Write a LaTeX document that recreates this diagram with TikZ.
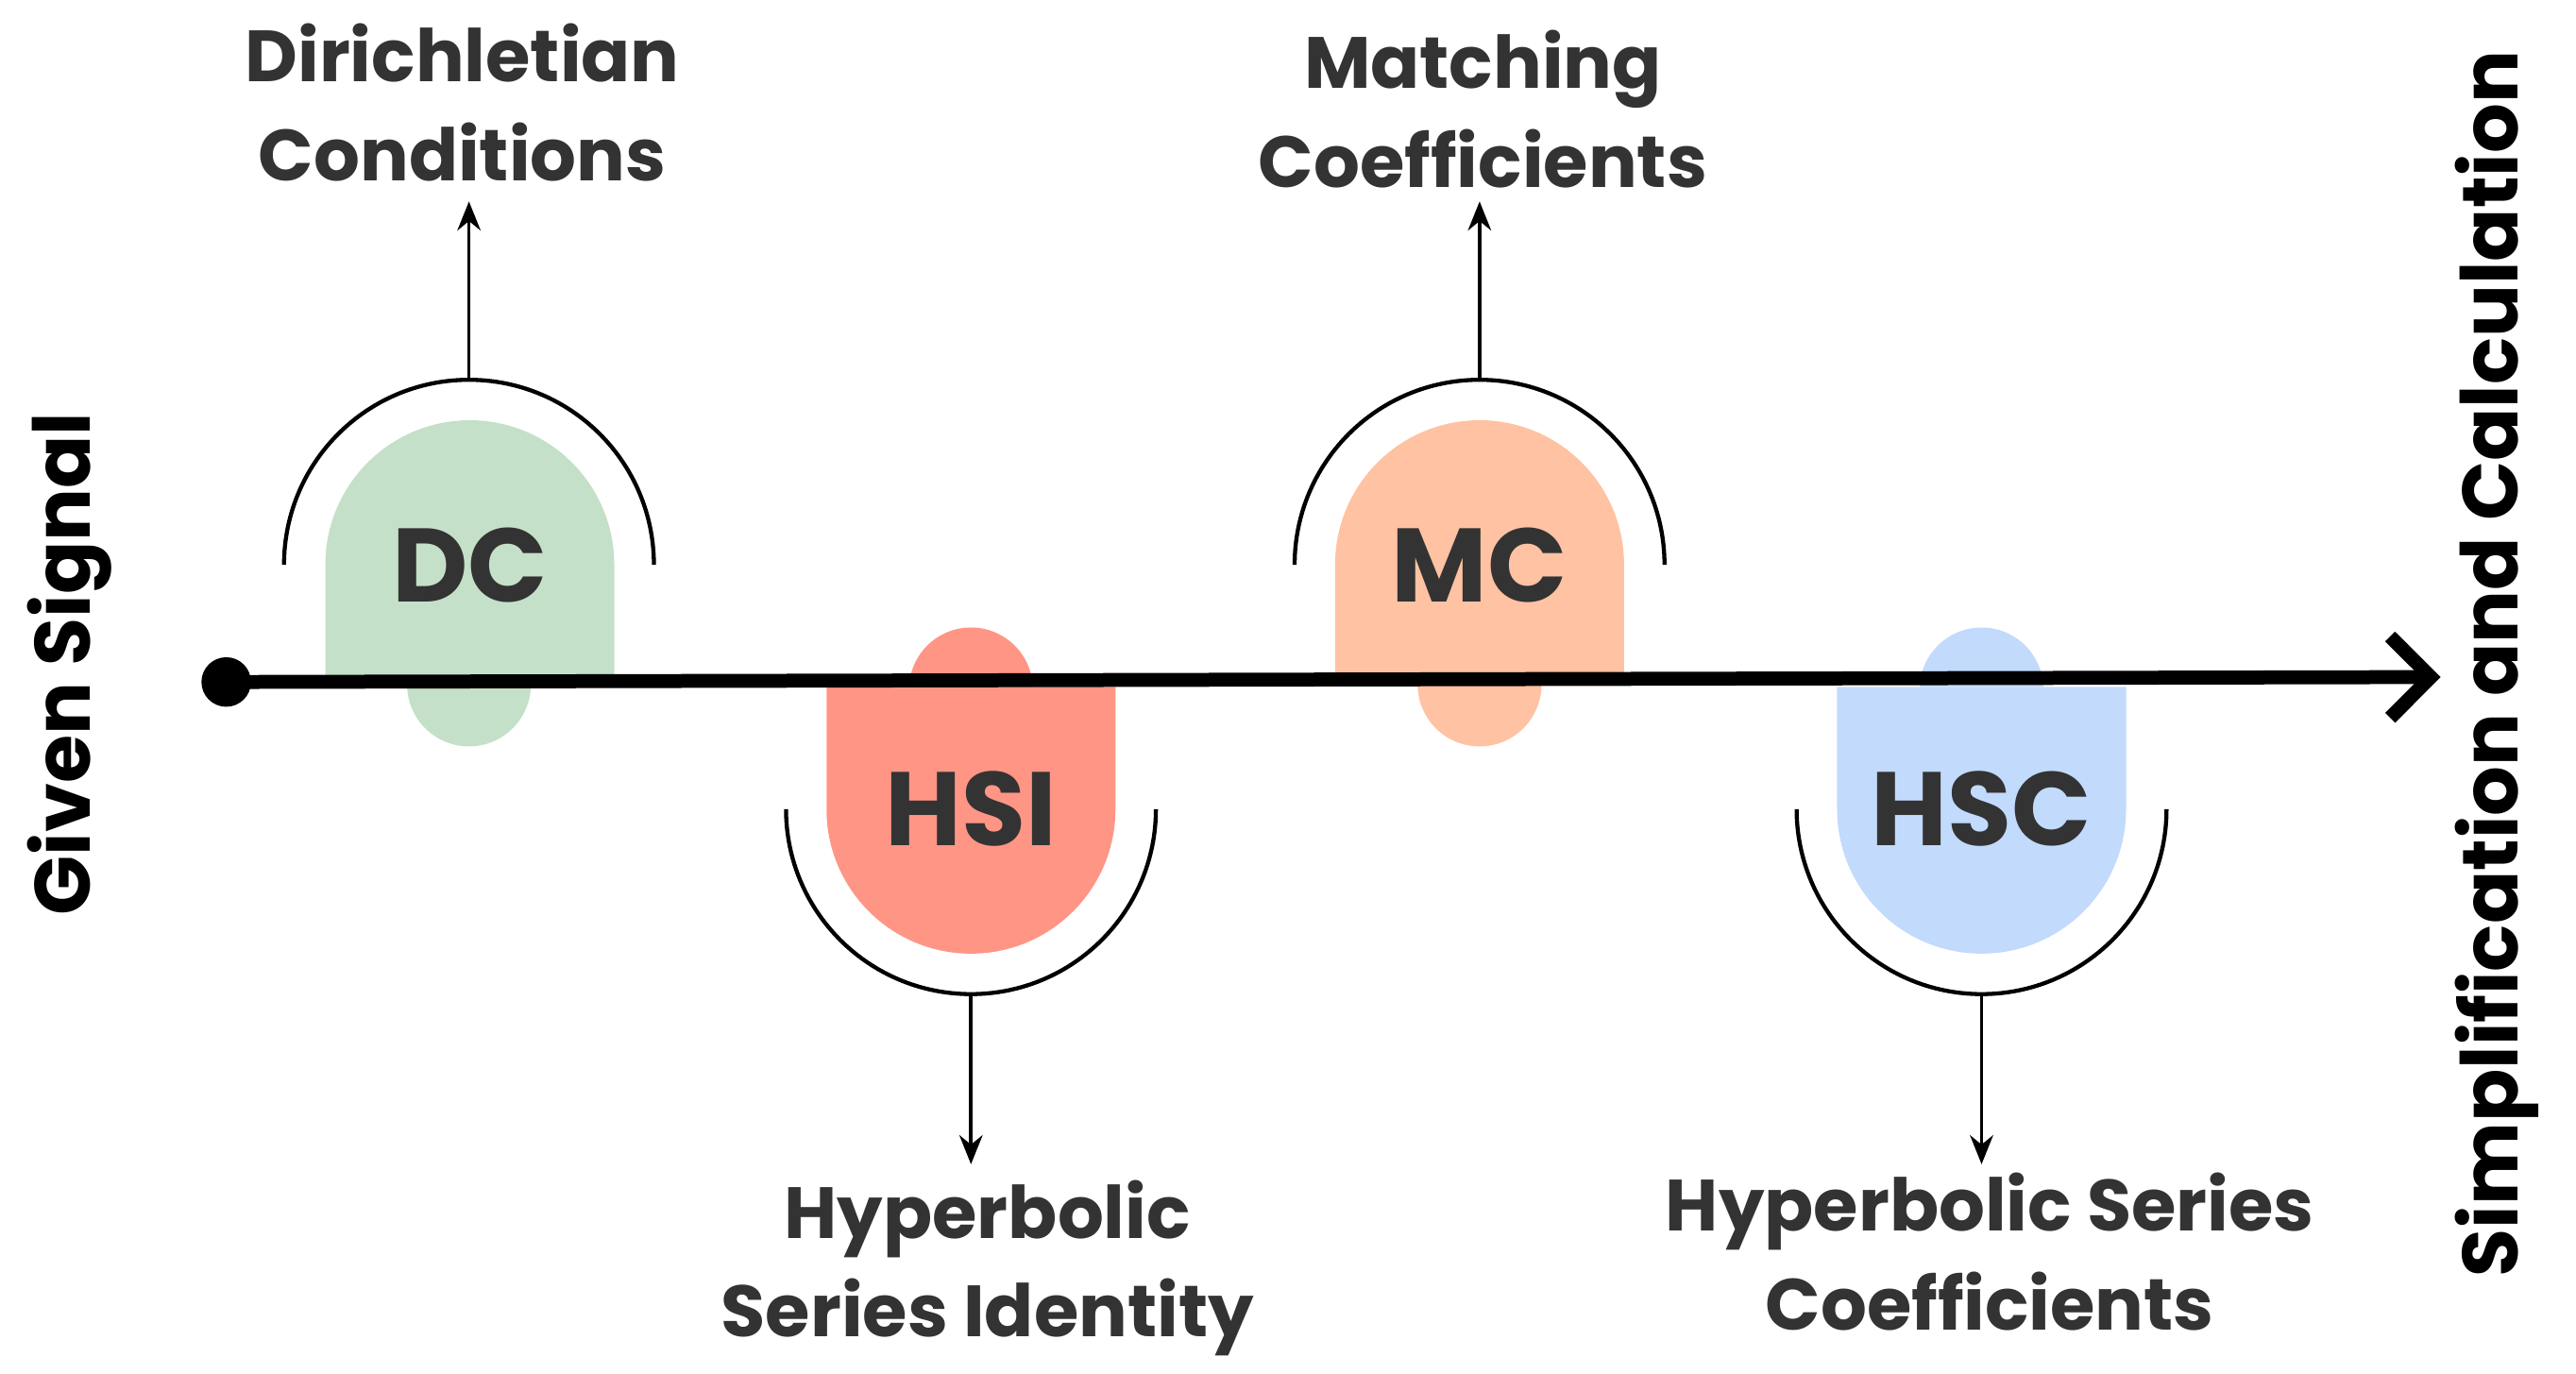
\documentclass[tikz,border=0pt]{standalone}
\usepackage{fontspec}
\setmainfont{Poppins}
\usetikzlibrary{arrows.meta}
\definecolor{dcgreen}{HTML}{C5E0C8}
\definecolor{hsired}{HTML}{FF9585}
\definecolor{mcpeach}{HTML}{FFC2A2}
\definecolor{hscblue}{HTML}{C2DAFC}
\definecolor{ink}{HTML}{333333}
\tikzset{
  lbl/.style={align=center, text=ink, font=\bfseries\fontsize{12.5}{17}\selectfont},
  tag/.style={text=ink, font=\bfseries\fontsize{18}{20}\selectfont},
  side/.style={rotate=90, font=\bfseries\fontsize{13.5}{15}\selectfont},
  ring/.style={line width=0.7pt},
  pin/.style={line width=0.6pt, -{Stealth[length=5pt,width=4pt]}}
}
\begin{document}
\begin{tikzpicture}
  \useasboundingbox (0,0) rectangle (15.6,8.32);
  % upper stages
  \fill[dcgreen] (1.97,4.22) -- (1.97,4.90) arc (180:0:0.875) -- (3.72,4.22) -- cycle;
  \fill[dcgreen] (2.465,4.22) -- (2.465,4.175) arc (180:360:0.375) -- (3.215,4.22) -- cycle;
  \draw[ring] (1.72,4.90) arc (180:0:1.12);
  \fill[mcpeach] (8.085,4.22) -- (8.085,4.90) arc (180:0:0.875) -- (9.835,4.22) -- cycle;
  \fill[mcpeach] (8.585,4.22) -- (8.585,4.175) arc (180:360:0.375) -- (9.335,4.22) -- cycle;
  \draw[ring] (7.84,4.90) arc (180:0:1.12);
  % lower stages
  \fill[hsired] (5.005,4.16) -- (5.005,3.42) arc (180:360:0.875) -- (6.755,4.16) -- cycle;
  \fill[hsired] (5.505,4.16) -- (5.505,4.145) arc (180:0:0.375) -- (6.255,4.16) -- cycle;
  \draw[ring] (4.76,3.42) arc (180:360:1.12);
  \fill[hscblue] (11.125,4.16) -- (11.125,3.42) arc (180:360:0.875) -- (12.875,4.16) -- cycle;
  \fill[hscblue] (11.625,4.16) -- (11.625,4.145) arc (180:0:0.375) -- (12.375,4.16) -- cycle;
  \draw[ring] (10.88,3.42) arc (180:360:1.12);
  % tags
  \node[tag] (dc) at (2.845,4.90) {DC};
  \node[tag] (mc) at (8.96,4.90) {MC};
  \node[tag] (hsi) at (5.88,3.42) {HSI};
  \node[tag] (hsc) at (12.0,3.42) {HSC};
  % timeline
  \node[circle, fill=black, inner sep=0pt, minimum size=0.3cm] (start) at (1.37,4.19) {};
  \coordinate (end) at (14.78,4.22);
  \draw[line width=2.4pt, -{Straight Barb[length=7pt,width=14pt]}] (start.center) -- (end);
  % pins
  \coordinate (dctop) at (2.84,6.02);
  \coordinate (mctop) at (8.96,6.02);
  \coordinate (hsibot) at (5.88,2.30);
  \coordinate (hscbot) at (12.0,2.30);
  \node[lbl] (dcl) at (2.80,7.70) {Dirichletian\\Conditions};
  \node[lbl] (mcl) at (8.98,7.66) {Matching\\Coefficients};
  \node[lbl] (hsil) at (5.98,0.64) {Hyperbolic\\Series Identity};
  \node[lbl] (hscl) at (12.05,0.74) {Hyperbolic Series\\Coefficients};
  \draw[pin] (dctop) -- (2.84,7.10);
  \draw[pin] (mctop) -- (8.96,7.10);
  \draw[pin] (hsibot) -- (5.88,1.27);
  \draw[pin] (hscbot) -- (12.0,1.27);
  % side texts
  \node[side] (given) at (0.42,4.30) {Given Signal};
  \node[side] (simp) at (15.12,4.30) {Simplification and Calculation};
\end{tikzpicture}
\end{document}
